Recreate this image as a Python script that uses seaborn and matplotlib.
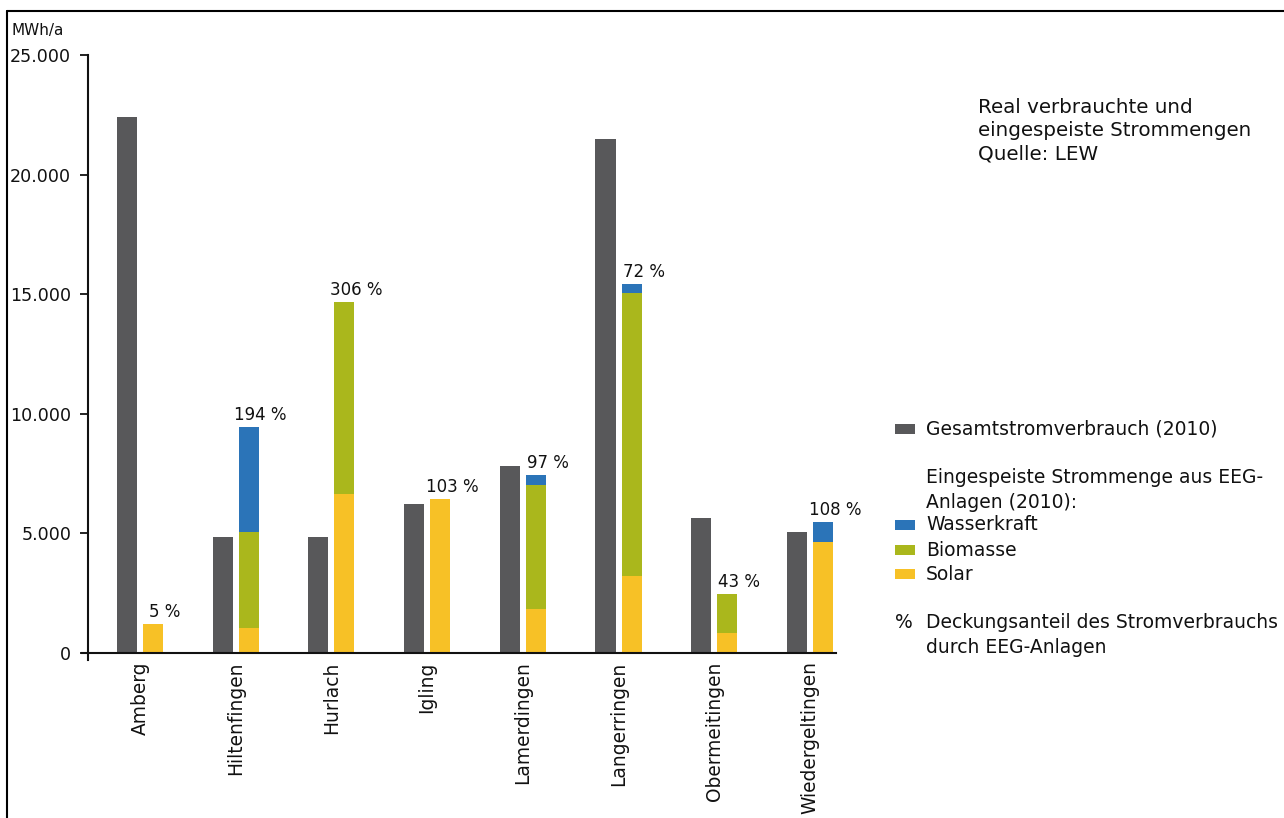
"""Strommengen je Gemeinde: Verbrauch vs. eingespeiste EEG-Mengen (2010)."""

import matplotlib
matplotlib.use("Agg")

import matplotlib.pyplot as plt
import pandas as pd
import seaborn as sns
from matplotlib.lines import Line2D
from matplotlib.patches import Rectangle
from matplotlib.ticker import FuncFormatter

ORTE = ["Amberg", "Hiltenfingen", "Hurlach", "Igling", "Lamerdingen",
        "Langerringen", "Obermeitingen", "Wiedergeltingen"]
GESAMT = [22400, 4850, 4850, 6230, 7830, 21490, 5660, 5070]
SOLAR = [1200, 1050, 6650, 6440, 1840, 3220, 850, 4650]
BIOMASSE = [0, 4010, 8020, 0, 5180, 11830, 1610, 0]
WASSERKRAFT = [0, 4390, 0, 0, 420, 390, 0, 830]
ANTEIL = [5, 194, 306, 103, 97, 72, 43, 108]

GRAU = "#58585a"
BLAU = "#2b74b8"
GRUEN = "#aab71c"
GELB = "#f7c126"

W, H = 1284, 818


def layer(eeg_values):
    """Long table: consumption bar next to one cumulative EEG layer."""
    n = len(ORTE)
    return pd.DataFrame({
        "Ort": ORTE * 2,
        "Reihe": ["Gesamt"] * n + ["EEG"] * n,
        "Wert": list(GESAMT) + list(eeg_values),
    })


def px(x, y):
    return x / W, 1 - y / H


sns.set_theme(style="white")
plt.rcParams["font.family"] = ["DejaVu Sans"]

fig = plt.figure(figsize=(W / 100, H / 100), dpi=100)
ax = fig.add_axes([88 / W, 1 - 653 / H, (836 - 88) / W, (653 - 55) / H])

bio_top = [s + b for s, b in zip(SOLAR, BIOMASSE)]
total = [s + b + w for s, b, w in zip(SOLAR, BIOMASSE, WASSERKRAFT)]

top_bars = None
for values, color in [(total, BLAU), (bio_top, GRUEN), (SOLAR, GELB)]:
    sns.barplot(data=layer(values), x="Ort", y="Wert", hue="Reihe",
                hue_order=["Gesamt", "EEG"], order=ORTE,
                palette={"Gesamt": GRAU, "EEG": color},
                width=0.544, gap=0.228, saturation=1, errorbar=None,
                linewidth=0, legend=False, ax=ax)
    if top_bars is None:
        top_bars = ax.containers[-1]

for bar, pct in zip(top_bars, ANTEIL):
    ax.text(bar.get_x() + bar.get_width() + 0.02, bar.get_height() + 130,
            f"{pct} %", ha="center", va="bottom", fontsize=12, color="#111111")

ax.set_ylim(0, 25000)
ax.set_xlim(-0.543, 7.272)
ax.set_yticks([0, 5000, 10000, 15000, 20000, 25000])
ax.yaxis.set_major_formatter(FuncFormatter(lambda v, _: f"{v:,.0f}".replace(",", ".")))
ax.set_xlabel("")
ax.set_ylabel("")
ax.tick_params(axis="y", left=True, length=6, width=1.3, pad=6,
               labelsize=12.6, colors="#111111", direction="out")
ax.tick_params(axis="x", bottom=False, length=0, pad=6, labelsize=13.4,
               labelcolor="#111111")
plt.setp(ax.get_xticklabels(), rotation=90)

sns.despine(ax=ax)
for side in ["left", "bottom"]:
    ax.spines[side].set_color("#111111")
    ax.spines[side].set_linewidth(1.5)
ax.spines["left"].set_bounds(-300, 25000)
ax.spines["bottom"].set_bounds(-0.61, 7.272)
ax.spines["left"].set_clip_on(False)

fig.text(*px(12, 30), "MWh/a", ha="left", va="center", fontsize=11, color="#111111")

fig.text(*px(978, 131), "Real verbrauchte und\neingespeiste Strommengen\nQuelle: LEW",
         ha="left", va="center", fontsize=14.3, color="#111111", linespacing=1.3)

# hand-built legend on the right
legend_items = [
    (429, GRAU, "Gesamtstromverbrauch (2010)"),
    (525, BLAU, "Wasserkraft"),
    (550, GRUEN, "Biomasse"),
    (574, GELB, "Solar"),
]
for y, color, label in legend_items:
    x0, y0 = px(895, y + 5)
    fig.add_artist(Rectangle((x0, y0), 20 / W, 10 / H, transform=fig.transFigure,
                             facecolor=color, edgecolor="none"))
    fig.text(*px(926, y), label, ha="left", va="center", fontsize=13.5, color="#111111")

fig.text(*px(926, 490), "Eingespeiste Strommenge aus EEG-\nAnlagen (2010):",
         ha="left", va="center", fontsize=13.5, color="#111111", linespacing=1.35)
fig.text(*px(895, 622), "%", ha="left", va="center", fontsize=13.5, color="#111111")
fig.text(*px(926, 635), "Deckungsanteil des Stromverbrauchs\ndurch EEG-Anlagen",
         ha="left", va="center", fontsize=13.5, color="#111111", linespacing=1.35)

# outer frame (top and left edges)
fig.add_artist(Line2D([7 / W, 1], [1 - 11 / H] * 2, transform=fig.transFigure,
                      color="black", linewidth=1.5))
fig.add_artist(Line2D([7 / W] * 2, [0, 1 - 11 / H], transform=fig.transFigure,
                      color="black", linewidth=1.5))

fig.savefig("out.png", dpi=100)
